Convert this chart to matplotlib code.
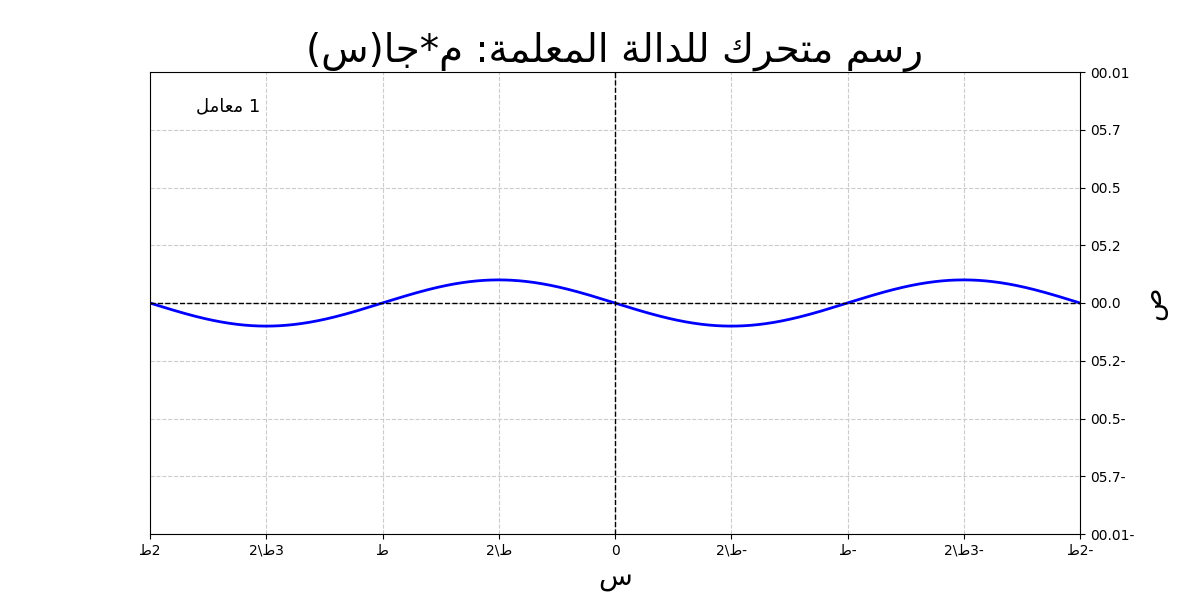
import matplotlib
matplotlib.use("Agg")
import matplotlib.pyplot as plt
import numpy as np

# Minimal Arabic shaping: (isolated, final, initial, medial)
FORMS = {
    "ا": ("\uFE8D", "\uFE8E", None, None),
    "ة": ("\uFE93", "\uFE94", None, None),
    "د": ("\uFEA9", "\uFEAA", None, None),
    "ر": ("\uFEAD", "\uFEAE", None, None),
    "ت": ("\uFE95", "\uFE96", "\uFE97", "\uFE98"),
    "ج": ("\uFE9D", "\uFE9E", "\uFE9F", "\uFEA0"),
    "ح": ("\uFEA1", "\uFEA2", "\uFEA3", "\uFEA4"),
    "س": ("\uFEB1", "\uFEB2", "\uFEB3", "\uFEB4"),
    "ص": ("\uFEB9", "\uFEBA", "\uFEBB", "\uFEBC"),
    "ط": ("\uFEC1", "\uFEC2", "\uFEC3", "\uFEC4"),
    "ع": ("\uFEC9", "\uFECA", "\uFECB", "\uFECC"),
    "ك": ("\uFED9", "\uFEDA", "\uFEDB", "\uFEDC"),
    "ل": ("\uFEDD", "\uFEDE", "\uFEDF", "\uFEE0"),
    "م": ("\uFEE1", "\uFEE2", "\uFEE3", "\uFEE4"),
}
MIRROR = {"(": ")", ")": "("}


def vis(s):
    out = []
    for i, ch in enumerate(s):
        if ch not in FORMS:
            out.append(MIRROR.get(ch, ch))
            continue
        prev = s[i - 1] if i > 0 else ""
        nxt = s[i + 1] if i + 1 < len(s) else ""
        jp = prev in FORMS and FORMS[prev][2] is not None
        jn = FORMS[ch][2] is not None and nxt in FORMS
        iso, fin, ini, med = FORMS[ch]
        if jp and jn:
            out.append(med)
        elif jp:
            out.append(fin)
        elif jn:
            out.append(ini)
        else:
            out.append(iso)
    return "".join(out[::-1])


amplitude = 1.0
x_ticks = [-2 * np.pi, -1.5 * np.pi, -np.pi, -0.5 * np.pi, 0, 0.5 * np.pi, np.pi, 1.5 * np.pi, 2 * np.pi]
x_tick_labels = ["-2ط", "-3ط\\2", "-ط", "-ط\\2", "0", "ط\\2", "ط", "3ط\\2", "2ط"]
y_ticks = [-10, -7.5, -5, -2.5, 0, 2.5, 5, 7.5, 10]

x = np.linspace(-2 * np.pi, 2 * np.pi, 800)
y = amplitude * np.sin(x)

plt.rcParams["font.family"] = ["DejaVu Sans"]
fig, ax = plt.subplots(figsize=(12, 6), dpi=100)
fig.subplots_adjust(left=0.125, right=0.9, top=0.88, bottom=0.11)

ax.plot(x, y, color="blue", lw=2)
ax.axhline(0, color="black", ls="--", lw=1)
ax.axvline(0, color="black", ls="--", lw=1)
ax.set_xlim(2 * np.pi, -2 * np.pi)
ax.set_ylim(-10, 10)
ax.set_xticks(x_ticks)
ax.set_xticklabels([vis(t) for t in x_tick_labels])
ax.yaxis.tick_right()
ax.yaxis.set_label_position("right")
ax.set_yticks(y_ticks)
ax.set_yticklabels([vis(f"{v:.2f}") for v in y_ticks])
ax.grid(True, ls="--", color="#cccccc", lw=0.8)

ax.set_title(vis("رسم متحرك للدالة المعلمة: م*جا(س)"), fontsize=28)
ax.set_xlabel(vis("س"), fontsize=20)
ax.set_ylabel(vis("ص"), fontsize=20)
ax.text(0.05, 0.915, vis(f"{amplitude:g} معامل"), transform=ax.transAxes, fontsize=13)

fig.savefig("out.png", dpi=100)
